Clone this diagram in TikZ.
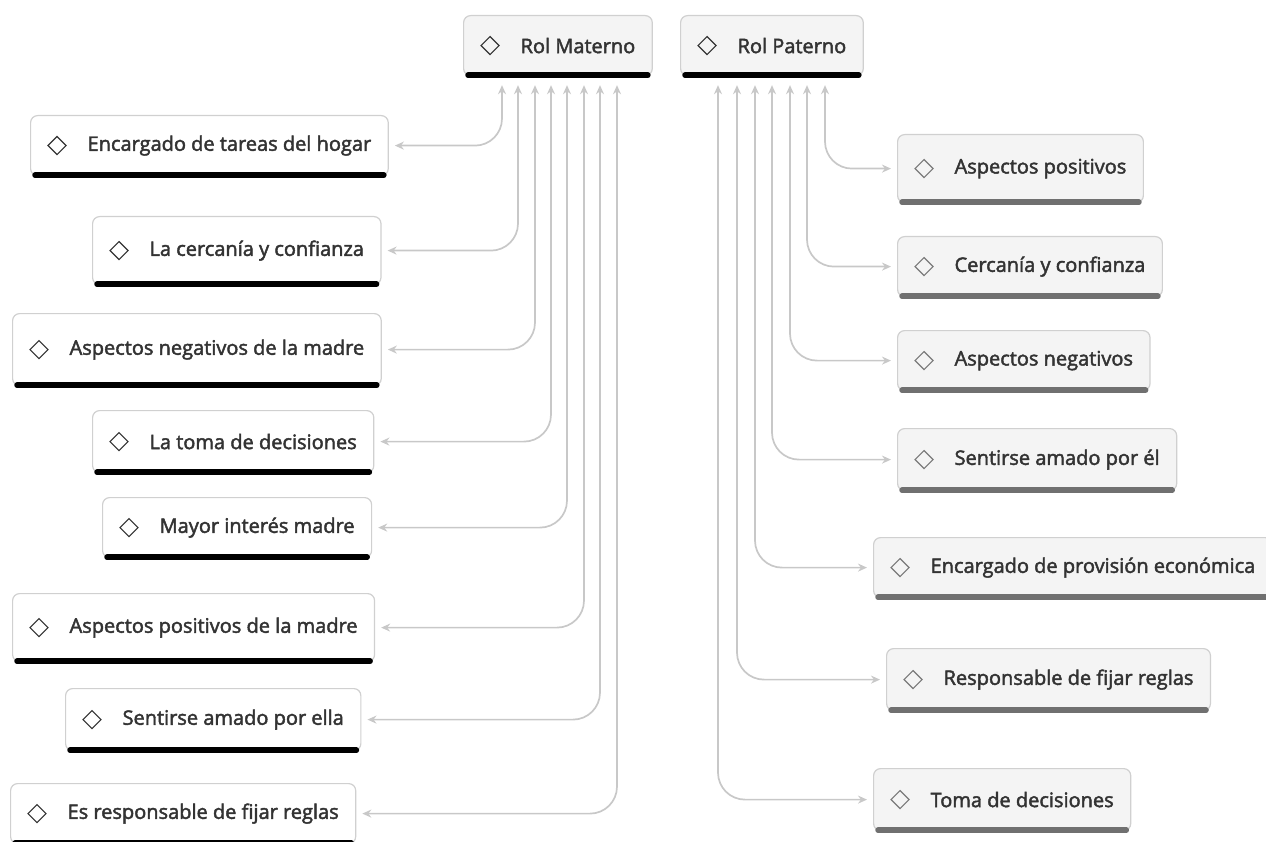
\documentclass[tikz,border=0pt]{standalone}
\usepackage{fontspec}
\setmainfont{Open Sans}
\newfontfamily\semib{Open Sans}[FakeBold=2.2]
\usetikzlibrary{arrows.meta,calc}
\definecolor{txt}{HTML}{333333}
\definecolor{edgec}{HTML}{D0D0D0}
\definecolor{connc}{HTML}{C8C8C8}
\definecolor{lfill}{HTML}{F4F4F4}
\definecolor{gbar}{HTML}{707070}
\definecolor{gdia}{HTML}{7A7A7A}
\begin{document}
\begin{tikzpicture}[x=1pt,y=-1pt,
  box/.style={draw=edgec, line width=1.2pt, rounded corners=7pt, minimum height=60pt,
    inner xsep=17pt, anchor=north west, font=\semib\fontsize{20}{24}\selectfont, text=txt},
  wbox/.style={box, fill=white},
  gbox/.style={box, fill=lfill},
  conn/.style={draw=connc, line width=1.7pt, rounded corners=27pt,
    {Stealth[length=9pt,width=8pt]}-{Stealth[length=9pt,width=8pt]}},
  barb/.style={line width=5.5pt, black, line cap=round},
  barg/.style={line width=5.5pt, gbar, line cap=round},
  diab/.style={txt, line width=1.2pt, line join=miter},
  diag/.style={gdia, line width=1.2pt, line join=miter}
]
\useasboundingbox (0,0) rectangle (1266,842);

% top nodes
\node[gbox] (RM) at (463,15) {\hspace*{40pt}Rol Materno};
\node[gbox] (RP) at (680,15) {\hspace*{40pt}Rol Paterno};

% left nodes
\node[wbox] (L1) at (30,115) {\hspace*{40pt}Encargado de tareas del hogar};
\node[wbox, minimum height=68pt] (L2) at (92,216) {\hspace*{40pt}La cercanía y confianza};
\node[wbox, minimum height=72pt] (L3) at (12,313) {\hspace*{40pt}Aspectos negativos de la madre};
\node[wbox, minimum height=62pt] (L4) at (92,410) {\hspace*{40pt}La toma de decisiones};
\node[wbox] (L5) at (102,497) {\hspace*{40pt}Mayor interés madre};
\node[wbox, minimum height=68pt] (L6) at (12,593) {\hspace*{40pt}Aspectos positivos de la madre};
\node[wbox, minimum height=62pt] (L7) at (65,688) {\hspace*{40pt}Sentirse amado por ella};
\node[wbox] (L8) at (10,783) {\hspace*{40pt}Es responsable de fijar reglas};

% right nodes
\node[gbox, minimum height=68pt] (R1) at (897,134) {\hspace*{40pt}Aspectos positivos};
\node[gbox] (R2) at (897,236) {\hspace*{40pt}Cercanía y confianza};
\node[gbox] (R3) at (897,330) {\hspace*{40pt}Aspectos negativos};
\node[gbox, minimum height=62pt] (R4) at (897,428) {\hspace*{40pt}Sentirse amado por él};
\node[gbox] (R5) at (873,537) {\hspace*{40pt}Encargado de provisión económica};
\node[gbox, minimum height=62pt] (R6) at (886,648) {\hspace*{40pt}Responsable de fijar reglas};
\node[gbox, minimum height=62pt] (R7) at (873,768) {\hspace*{40pt}Toma de decisiones};

% bottom bars and diamonds
\foreach \n in {RM,RP,L1,L2,L3,L4,L5,L6,L7,L8}{
  \draw[barb] ($(\n.south west)+(5,-1)$) -- ($(\n.south east)+(-5,-1)$);
  \draw[diab] ($(\n.west)+(18,0)$) -- ($(\n.west)+(27,-9)$) -- ($(\n.west)+(36,0)$) -- ($(\n.west)+(27,9)$) -- cycle;
}
\foreach \n in {R1,R2,R3,R4,R5,R6,R7}{
  \draw[barg] ($(\n.south west)+(5,-1)$) -- ($(\n.south east)+(-5,-1)$);
  \draw[diag] ($(\n.west)+(18,0)$) -- ($(\n.west)+(27,-9)$) -- ($(\n.west)+(36,0)$) -- ($(\n.west)+(27,9)$) -- cycle;
}

% left connectors
\draw[conn] ($(RM.south west)+(39,9)$) |- ($(L1.east)+(6,0)$);
\draw[conn] ($(RM.south west)+(55,9)$) |- ($(L2.east)+(6,0)$);
\draw[conn] ($(RM.south west)+(72,9)$) |- ($(L3.east)+(6,0)$);
\draw[conn] ($(RM.south west)+(88,9)$) |- ($(L4.east)+(6,0)$);
\draw[conn] ($(RM.south west)+(104,9)$) |- ($(L5.east)+(6,0)$);
\draw[conn] ($(RM.south west)+(121,9)$) |- ($(L6.east)+(6,0)$);
\draw[conn] ($(RM.south west)+(137,9)$) |- ($(L7.east)+(6,0)$);
\draw[conn] ($(RM.south west)+(154,9)$) |- ($(L8.east)+(6,0)$);

% right connectors
\draw[conn] ($(RP.south west)+(145,9)$) |- ($(R1.west)+(-6,0)$);
\draw[conn] ($(RP.south west)+(127,9)$) |- ($(R2.west)+(-6,0)$);
\draw[conn] ($(RP.south west)+(110,9)$) |- ($(R3.west)+(-6,0)$);
\draw[conn] ($(RP.south west)+(92,9)$) |- ($(R4.west)+(-6,0)$);
\draw[conn] ($(RP.south west)+(75,9)$) |- ($(R5.west)+(-6,0)$);
\draw[conn] ($(RP.south west)+(57,9)$) |- ($(R6.west)+(-6,0)$);
\draw[conn] ($(RP.south west)+(38,9)$) |- ($(R7.west)+(-6,0)$);
\end{tikzpicture}
\end{document}
